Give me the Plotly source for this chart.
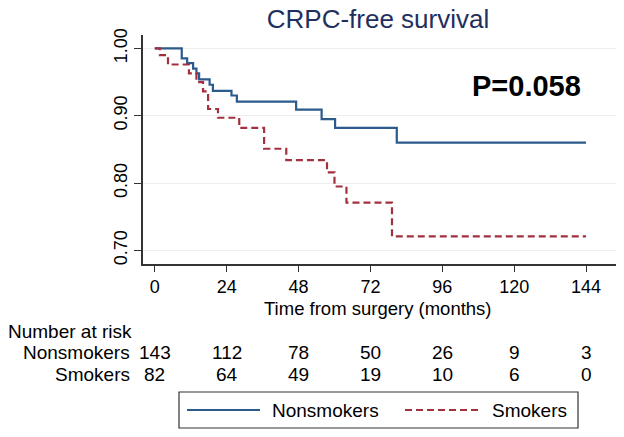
import plotly.graph_objects as go

# ---- data ----
ns_time = [0, 9.0, 10.8, 12.8, 13.9, 14.8, 18.3, 19.4, 25.6, 27.4, 47.2, 55.7, 60.2, 80.8, 144]
ns_surv = [1.000, 0.985, 0.978, 0.970, 0.963, 0.954, 0.946, 0.937, 0.930, 0.921, 0.909, 0.895, 0.882, 0.860, 0.860]

sm_time = [0, 1.7, 4.4, 11.4, 13.9, 16.1, 17.8, 21.1, 28.2, 36.5, 43.9, 57.5, 60.0, 64.0, 79.2, 144]
sm_surv = [1.000, 0.990, 0.976, 0.963, 0.950, 0.936, 0.910, 0.897, 0.882, 0.851, 0.834, 0.816, 0.795, 0.771, 0.721, 0.721]

x_ticks = [0, 24, 48, 72, 96, 120, 144]
y_ticks = [0.70, 0.80, 0.90, 1.00]
risk_nonsmokers = [143, 112, 78, 50, 26, 9, 3]
risk_smokers = [82, 64, 49, 19, 10, 6, 0]
group_names = ["Nonsmokers", "Smokers"]
p_text = "P=0.058"
title_text = "CRPC-free survival"
x_title = "Time from surgery (months)"

# ---- styling / layout ----
W, H = 624, 437
L, R, T, B = 143, 8, 35, 173
PW, PH = W - L - R, H - T - B
BLUE = "#2b5a8c"
RED = "#a3303f"
FONT = "Liberation Sans, Arial, sans-serif"
TXT = 19


def px_x(p):
    return (p - L) / PW


def px_y(p):
    return (H - B - p) / PH


def note(x, y, text, size=TXT, xanchor="center", xref="paper"):
    return dict(x=x, y=y, xref=xref, yref="paper", text=text, showarrow=False,
                xanchor=xanchor, yanchor="middle",
                font=dict(size=size, color="black", family=FONT))


fig = go.Figure()
fig.add_trace(go.Scatter(x=ns_time, y=ns_surv, mode="lines", line_shape="hv",
                         line=dict(color=BLUE, width=2.2), name=group_names[0]))
fig.add_trace(go.Scatter(x=sm_time, y=sm_surv, mode="lines", line_shape="hv",
                         line=dict(color=RED, width=2.2, dash="7px,4px"), name=group_names[1]))

annotations = [
    note(px_x(526), px_y(86), f"<b>{p_text}</b>", size=29),
    note(px_x(378), px_y(308.5), x_title, size=18.5),
    note(px_x(6), px_y(331), "Number at risk", xanchor="left"),
]
for row_y, name, vals in [(352, group_names[0], risk_nonsmokers), (374, group_names[1], risk_smokers)]:
    annotations.append(note(px_x(132), px_y(row_y), name, xanchor="right"))
    for t, v in zip(x_ticks, vals):
        annotations.append(note(t, px_y(row_y), str(v), xref="x"))
annotations.append(note(px_x(270), px_y(410), group_names[0], xanchor="left"))
annotations.append(note(px_x(490), px_y(410), group_names[1], xanchor="left"))

shapes = [
    dict(type="rect", xref="paper", yref="paper", x0=px_x(179), x1=px_x(578), y0=px_y(392), y1=px_y(428),
         line=dict(color="#333333", width=1.2), fillcolor="rgba(0,0,0,0)"),
    dict(type="line", xref="paper", yref="paper", x0=px_x(187), x1=px_x(260), y0=px_y(410), y1=px_y(410),
         line=dict(color=BLUE, width=2.2)),
    dict(type="line", xref="paper", yref="paper", x0=px_x(405), x1=px_x(482), y0=px_y(410), y1=px_y(410),
         line=dict(color=RED, width=2.2, dash="7px,4px")),
]

fig.update_layout(
    width=W, height=H,
    margin=dict(l=L, r=R, t=T, b=B, autoexpand=False),
    paper_bgcolor="white", plot_bgcolor="white",
    showlegend=False,
    title=dict(text=title_text, x=378 / W, xanchor="center",
               y=1 - 19 / H, yanchor="middle",
               font=dict(size=26, color="#1f2f5e", family=FONT)),
    font=dict(family=FONT, color="black"),
    annotations=annotations,
    shapes=shapes,
    xaxis=dict(range=[-3.94, 154.0], tickvals=x_ticks, ticks="outside", ticklen=6, tickwidth=1.3,
               tickcolor="#333333", showline=True, linecolor="#333333", linewidth=1.5,
               showgrid=False, zeroline=False, tickfont=dict(size=18, color="black")),
    yaxis=dict(range=[0.680, 1.0198], tickvals=y_ticks, tickformat=".2f", tickangle=-90,
               ticks="outside", ticklen=7, tickwidth=1.3, tickcolor="#333333",
               showline=True, linecolor="#333333", linewidth=1.5,
               showgrid=True, gridcolor="#eeeeee", gridwidth=1, zeroline=False,
               tickfont=dict(size=18, color="black")),
)

fig.write_html("out.html", config={"displayModeBar": False},
               post_script="document.body.style.margin='0';")
